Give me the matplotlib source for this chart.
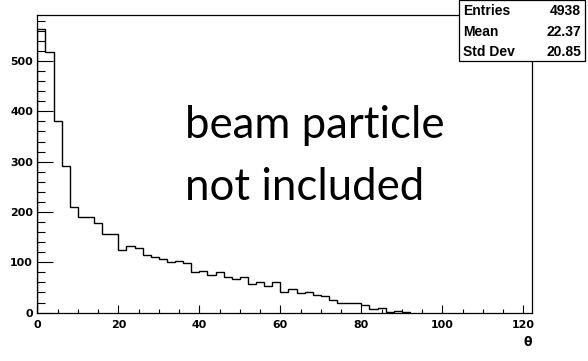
import numpy as np
import matplotlib.pyplot as plt
from matplotlib.ticker import MultipleLocator
from matplotlib.patches import Rectangle

# theta distribution, 2-degree bins starting at 0
bin_width = 2
counts = [564, 517, 381, 292, 209, 189, 189, 179, 156, 156,
          125, 132, 129, 115, 110, 106, 101, 103, 99, 81,
          83, 75, 81, 71, 66, 71, 57, 61, 52, 61,
          40, 46, 38, 40, 35, 32, 25, 19, 20, 20,
          15, 8, 10, 2, 3, 1]
x_range = (0, 122.2)
y_range = (0, 592)

stat_names = ['Entries', 'Mean', 'Std Dev']
stat_values = ['4938', '22.37', '20.85']

note_lines = ['beam particle', 'not included']
x_title = '\u03b8'

W, H = 588, 361
fig = plt.figure(figsize=(W / 100, H / 100), dpi=100)
fig.patch.set_facecolor('white')

# frame in pixel coordinates
left, right, top, bottom = 37.3, 532.3, 14.7, 312.6
ax = fig.add_axes([left / W, 1 - bottom / H, (right - left) / W, (bottom - top) / H])

edges = np.arange(len(counts) + 1) * bin_width
ax.stairs(counts, edges, color='black', linewidth=1.0)

ax.set_xlim(*x_range)
ax.set_ylim(*y_range)

ax.xaxis.set_major_locator(MultipleLocator(20))
ax.xaxis.set_minor_locator(MultipleLocator(5))
ax.yaxis.set_major_locator(MultipleLocator(100))
ax.yaxis.set_minor_locator(MultipleLocator(20))

ax.tick_params(axis='x', which='major', direction='in', length=5.8, width=0.8, pad=5)
ax.tick_params(axis='x', which='minor', direction='in', length=2.9, width=0.8)
ax.tick_params(axis='y', which='major', direction='in', length=11.5, width=0.8, pad=3)
ax.tick_params(axis='y', which='minor', direction='in', length=5.8, width=0.8)
ax.tick_params(top=False, right=False, which='both')

for lab in ax.get_xticklabels() + ax.get_yticklabels():
    lab.set_fontfamily('DejaVu Sans')
    lab.set_fontweight('bold')
    lab.set_fontsize(7.9)

for sp in ax.spines.values():
    sp.set_linewidth(0.9)

fig.text(right / W, 1 - 342 / H, x_title, ha='right', va='center',
         fontsize=9, fontweight='bold', family='DejaVu Sans')

# annotation
fig.text(185 / W, 1 - 138.5 / H, note_lines[0], ha='left', va='baseline',
         fontsize=31.5, family='Lato')
fig.text(185 / W, 1 - 200 / H, note_lines[1], ha='left', va='baseline',
         fontsize=31.5, family='Lato')

# statistics box
bx0, bx1, by0, by1 = 458.5, 585.0, 0.5, 61.0
fig.patches.append(Rectangle((bx0 / W, 1 - by1 / H), (bx1 - bx0) / W, (by1 - by0) / H,
                             transform=fig.transFigure, facecolor='white',
                             edgecolor='black', linewidth=0.9, zorder=5))
row_y = [11, 31.7, 52.5]
for name, val, yy in zip(stat_names, stat_values, row_y):
    fig.text(463 / W, 1 - yy / H, name, ha='left', va='center', fontsize=10,
             fontweight='bold', family='Liberation Sans', zorder=6)
    fig.text(581 / W, 1 - yy / H, val, ha='right', va='center', fontsize=10,
             fontweight='bold', family='Liberation Sans', zorder=6)

fig.savefig('out.png', dpi=100)
